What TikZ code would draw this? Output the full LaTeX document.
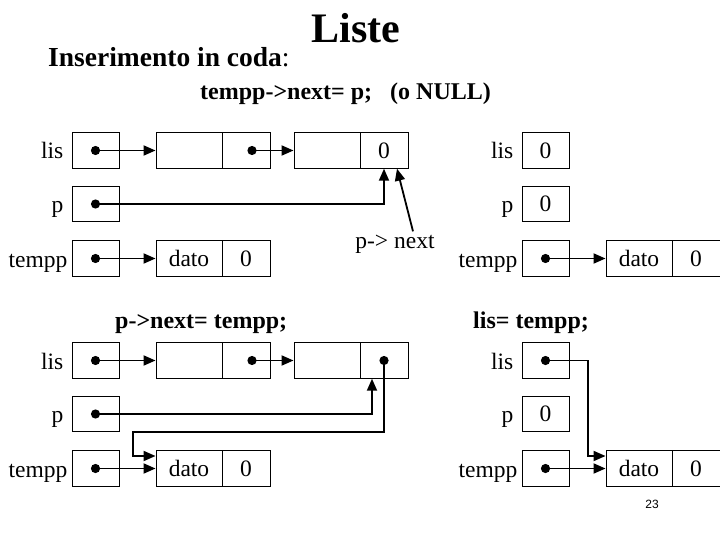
\documentclass[tikz,border=0pt]{standalone}
\usepackage{fontspec}
\setmainfont{Liberation Serif}
\newfontfamily\pagesans{Liberation Sans}
\usetikzlibrary{arrows.meta}
\newcommand\lab{\fontsize{23.5}{27}\selectfont}
\begin{document}
\begin{tikzpicture}[x=1pt,y=-1pt,
  cell/.style={draw,line width=0.9pt,minimum height=35.5pt,inner sep=0pt,font=\lab},
  pcell/.style={cell,minimum width=47pt},
  acell/.style={cell,minimum width=66pt},
  bcell/.style={cell,minimum width=48pt},
  varname/.style={anchor=base east,inner sep=0pt,font=\lab},
  ptr/.style={line width=1.8pt,-{Triangle[length=12pt,width=10pt]}},
  dotr/.style={radius=4.6pt}
]
\useasboundingbox (0,0) rectangle (720,540);
\fill[white] (0,0) rectangle (720,540);

% titles
\node[anchor=base,inner sep=0pt,font=\fontsize{42}{46}\selectfont\bfseries] (title) at (356,43) {Liste};
\node[anchor=base west,inner sep=0pt,font=\fontsize{27.5}{30}\selectfont] (sub) at (48,67) {\textbf{Inserimento in coda}:};
\node[anchor=base west,inner sep=0pt,font=\fontsize{24}{28}\selectfont\bfseries] (step1) at (200,100) {tempp->next= p;\ \ \ (o NULL)};
\node[anchor=base west,inner sep=0pt,font=\fontsize{24}{28}\selectfont\bfseries] (step2) at (115,328) {p->next= tempp;};
\node[anchor=base west,inner sep=0pt,font=\fontsize{24}{28}\selectfont\bfseries] (step3) at (473,328) {lis= tempp;};
\node[anchor=base,inner sep=0pt,font=\fontsize{12}{14}\selectfont\pagesans] (pgnum) at (652,508) {23};

% ---------- top left ----------
\node[pcell] (l1) at (95.5,150.5) {};
\node[pcell] (p1) at (95.5,204) {};
\node[pcell] (t1) at (95.5,258.5) {};
\node[varname] (l1n) at ([xshift=-8pt,yshift=-8.5pt]l1.west) {lis};
\node[varname] (p1n) at ([xshift=-8pt,yshift=-8.5pt]p1.west) {p};
\node[varname] (t1n) at ([xshift=-4pt,yshift=-8.5pt]t1.west) {tempp};
\node[acell] (n1a) at (189,150.5) {};
\node[bcell] (n1b) at (246,150.5) {};
\node[acell] (n2a) at (327,150.5) {};
\node[bcell] (n2b) at (384,150.5) {0};
\node[acell] (d1a) at (189,258.5) {dato};
\node[bcell] (d1b) at (246,258.5) {0};
\node[anchor=base,inner sep=0pt,font=\lab] (pn) at (395,248) {p-> next};

\fill (l1.center) circle[dotr];
\draw[ptr] (l1.center) -- (n1a.west);
\fill ([xshift=6pt]n1b.center) circle[dotr];
\draw[ptr] ([xshift=6pt]n1b.center) -- (n2a.west);
\fill (p1.center) circle[dotr];
\draw[ptr] (p1.center) -| (n2b.south);
\draw[ptr] ([xshift=18pt,yshift=3pt]pn.north) -- ([xshift=13pt]n2b.south);
\fill (t1.center) circle[dotr];
\draw[ptr] (t1.center) -- (d1a.west);

% ---------- top right ----------
\node[pcell] (rl1) at (545.5,150.5) {0};
\node[pcell] (rp1) at (545.5,204) {0};
\node[pcell] (rt1) at (545.5,258.5) {};
\node[varname] (rl1n) at ([xshift=-8pt,yshift=-8.5pt]rl1.west) {lis};
\node[varname] (rp1n) at ([xshift=-8pt,yshift=-8.5pt]rp1.west) {p};
\node[varname] (rt1n) at ([xshift=-4pt,yshift=-8.5pt]rt1.west) {tempp};
\node[acell] (rd1a) at (639,258.5) {dato};
\node[bcell] (rd1b) at (696,258.5) {0};
\fill (rt1.center) circle[dotr];
\draw[ptr] (rt1.center) -- (rd1a.west);

% ---------- bottom left ----------
\node[pcell] (l2) at (95.5,360.5) {};
\node[pcell] (p2) at (95.5,414) {};
\node[pcell] (t2) at (95.5,468.5) {};
\node[varname] (l2n) at ([xshift=-8pt,yshift=-8.5pt]l2.west) {lis};
\node[varname] (p2n) at ([xshift=-8pt,yshift=-8.5pt]p2.west) {p};
\node[varname] (t2n) at ([xshift=-4pt,yshift=-8.5pt]t2.west) {tempp};
\node[acell] (n3a) at (189,360.5) {};
\node[bcell] (n3b) at (246,360.5) {};
\node[acell] (n4a) at (327,360.5) {};
\node[bcell] (n4b) at (384,360.5) {};
\node[acell] (d2a) at (189,468.5) {dato};
\node[bcell] (d2b) at (246,468.5) {0};
\coordinate (k1) at (133,432);

\fill (l2.center) circle[dotr];
\draw[ptr] (l2.center) -- (n3a.west);
\fill ([xshift=6pt]n3b.center) circle[dotr];
\draw[ptr] ([xshift=6pt]n3b.center) -- (n4a.west);
\fill (p2.center) circle[dotr];
\draw[ptr] (p2.center) -| ([xshift=-12pt]n4b.south);
\fill (n4b.center) circle[dotr];
\draw[ptr] (n4b.center) |- (k1) |- ([yshift=12.5pt]d2a.west);
\fill (t2.center) circle[dotr];
\draw[ptr] (t2.center) -- (d2a.west);

% ---------- bottom right ----------
\node[pcell] (rl2) at (545.5,360.5) {};
\node[pcell] (rp2) at (545.5,414) {0};
\node[pcell] (rt2) at (545.5,468.5) {};
\node[varname] (rl2n) at ([xshift=-8pt,yshift=-8.5pt]rl2.west) {lis};
\node[varname] (rp2n) at ([xshift=-8pt,yshift=-8.5pt]rp2.west) {p};
\node[varname] (rt2n) at ([xshift=-4pt,yshift=-8.5pt]rt2.west) {tempp};
\node[acell] (rd2a) at (639,468.5) {dato};
\node[bcell] (rd2b) at (696,468.5) {0};
\coordinate (k2) at (588,360.5);
\fill (rl2.center) circle[dotr];
\draw[ptr] (rl2.center) -- (k2) |- ([yshift=12.5pt]rd2a.west);
\fill (rt2.center) circle[dotr];
\draw[ptr] (rt2.center) -- (rd2a.west);
\end{tikzpicture}
\end{document}
